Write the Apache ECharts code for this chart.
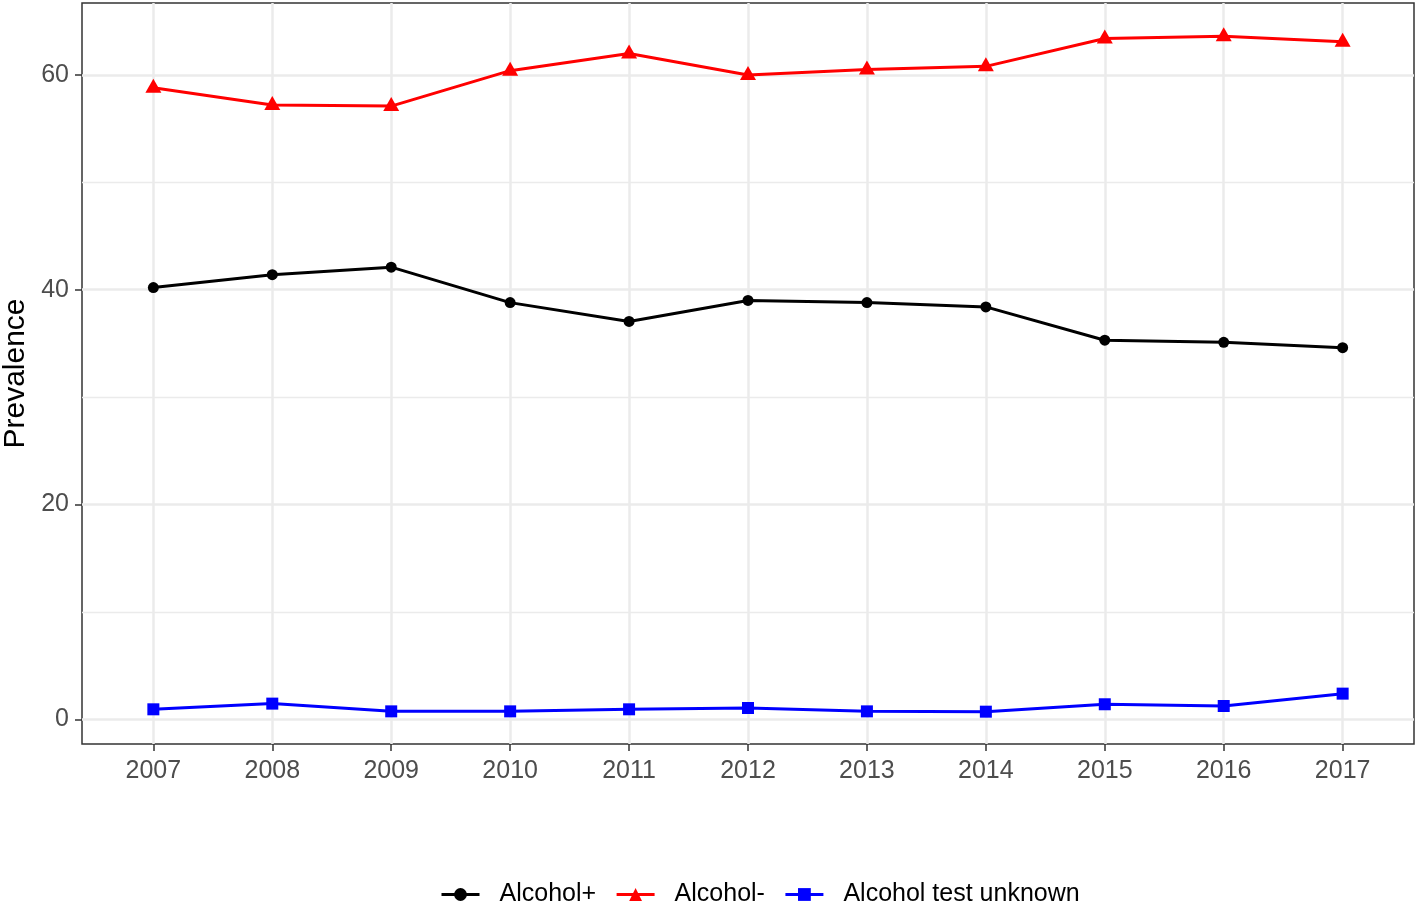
<!DOCTYPE html>
<html>
<head>
<meta charset="utf-8">
<script src="https://cdn.jsdelivr.net/npm/echarts@6/dist/echarts.min.js"></script>
<style>
  html, body { margin: 0; padding: 0; background: #fff; }
  #chart { width: 1419px; height: 906px; }
</style>
</head>
<body>
<div id="chart"></div>
<script>
const years = [2007, 2008, 2009, 2010, 2011, 2012, 2013, 2014, 2015, 2016, 2017];
const alcoholPos = [40.2, 41.4, 42.1, 38.8, 37.05, 39.0, 38.8, 38.4, 35.3, 35.1, 34.6];
const alcoholNeg = [58.8, 57.2, 57.1, 60.4, 62.0, 60.0, 60.5, 60.8, 63.4, 63.6, 63.1];
const alcoholUnknown = [0.93, 1.46, 0.74, 0.74, 0.93, 1.05, 0.74, 0.71, 1.4, 1.24, 2.39];
const yTicks = [0, 20, 40, 60];
const seriesNames = ['Alcohol+', 'Alcohol-', 'Alcohol test unknown'];

const font = '"Liberation Sans", Arial, sans-serif';
const pairs = arr => years.map((y, i) => [y, arr[i]]);

const chart = echarts.init(document.getElementById('chart'), null, { renderer: 'canvas' });
chart.setOption({
  backgroundColor: '#ffffff',
  animation: false,
  grid: {
    left: 82, right: 5, top: 3, bottom: 162,
    containLabel: false, outerBoundsMode: 'none',
    show: true, borderColor: '#333333', borderWidth: 1.5, backgroundColor: '#ffffff'
  },
  xAxis: {
    type: 'value',
    min: 2006.4, max: 2017.6,
    splitNumber: 11,
    axisLine: { show: false, onZero: false },
    axisTick: { show: true, length: 7, customValues: years, lineStyle: { color: '#333333', width: 1.5 } },
    axisLabel: {
      customValues: years, margin: 15, color: '#4D4D4D', fontSize: 25, fontFamily: font,
      formatter: v => String(Math.round(v))
    },
    splitLine: { show: true, lineStyle: { color: '#EBEBEB', width: 2.5 } }
  },
  yAxis: {
    type: 'value',
    min: -2.3, max: 66.7,
    splitNumber: 4,
    name: 'Prevalence',
    nameLocation: 'middle',
    nameGap: 49,
    nameTextStyle: { color: '#000000', fontSize: 30, fontFamily: font },
    axisLine: { show: false, onZero: false },
    axisTick: { show: true, length: 7, customValues: yTicks, lineStyle: { color: '#333333', width: 1.5 } },
    axisLabel: { customValues: yTicks, margin: 13, color: '#4D4D4D', fontSize: 25, fontFamily: font },
    splitLine: { show: true, lineStyle: { color: '#EBEBEB', width: 2.5 } },
    minorTick: { show: false, splitNumber: 2 },
    minorSplitLine: { show: true, lineStyle: { color: '#EBEBEB', width: 1.3 } }
  },
  legend: {
    left: 440, top: 882, padding: 0,
    itemWidth: 38, itemHeight: 16, itemGap: 19,
    lineStyle: { width: 3 },
    textStyle: { color: '#000000', fontSize: 25, fontFamily: font, padding: [0, 0, 0, 15] },
    data: seriesNames
  },
  series: [
    {
      name: seriesNames[0], type: 'line', data: pairs(alcoholPos),
      symbol: 'circle', symbolSize: 11,
      lineStyle: { color: '#000000', width: 3 }, itemStyle: { color: '#000000' }
    },
    {
      name: seriesNames[1], type: 'line', data: pairs(alcoholNeg),
      symbol: 'triangle', symbolSize: [16, 14], symbolOffset: [0, -2],
      lineStyle: { color: '#FF0000', width: 3 }, itemStyle: { color: '#FF0000' }
    },
    {
      name: seriesNames[2], type: 'line', data: pairs(alcoholUnknown),
      symbol: 'rect', symbolSize: 12,
      lineStyle: { color: '#0000FF', width: 3 }, itemStyle: { color: '#0000FF' }
    }
  ]
});
</script>
</body>
</html>
